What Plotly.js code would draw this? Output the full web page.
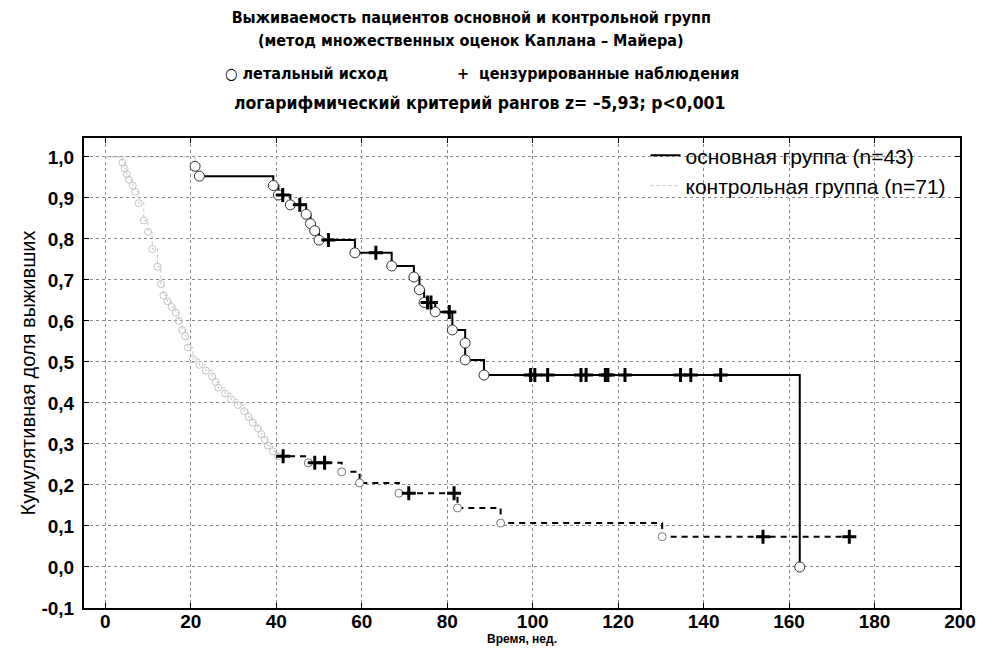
<!DOCTYPE html>
<html>
<head>
<meta charset="utf-8">
<script src="https://cdn.plot.ly/plotly-3.0.1.min.js"></script>
<style>html,body{margin:0;padding:0;background:#fff;}#chart{width:986px;height:671px;}</style>
</head>
<body>
<div id="chart"></div>
<script>
// ---- data ----
const mainTime = [0, 21, 22, 39.3, 40.5, 43.3, 47, 48, 49, 50, 58.4, 67, 72.2, 73.5, 74.6, 77.2, 81.2, 84.2, 84.2, 88.6, 162.5];
const mainSurv = [1, 0.977, 0.953, 0.93, 0.907, 0.883, 0.86, 0.837, 0.82, 0.797, 0.766, 0.734, 0.707, 0.676, 0.645, 0.622, 0.578, 0.546, 0.505, 0.468, 0];
const mainCensTime = [41.5, 45.5, 52.2, 63.3, 75.4, 76.2, 80.5, 99.5, 100.5, 103.5, 111.3, 112.5, 117, 117.6, 121.6, 134.6, 137, 144];
const mainCensSurv = [0.907, 0.883, 0.797, 0.766, 0.645, 0.645, 0.622, 0.468, 0.468, 0.468, 0.468, 0.468, 0.468, 0.468, 0.468, 0.468, 0.468, 0.468];

const ctrlTime = [0, 4, 4.5, 5, 5.5, 6.4, 7, 7.8, 9, 10, 11, 12.2, 13, 13.6, 14.5, 15.5, 16.5, 17.2, 18, 18.7, 19.3, 20.5, 22, 23.5, 25, 25.8, 26.4, 28, 29.4, 31, 32.5, 33.5, 34.5, 35.7, 36.5, 37.3, 38, 39.2, 40.4, 47.5, 55.3, 59.5, 68.7, 82.4, 92.5, 130.3, 174.1];
const ctrlSurv = [1, 0.986, 0.972, 0.958, 0.944, 0.93, 0.915, 0.887, 0.845, 0.817, 0.775, 0.732, 0.69, 0.662, 0.648, 0.634, 0.62, 0.6, 0.578, 0.563, 0.535, 0.507, 0.493, 0.479, 0.465, 0.451, 0.437, 0.423, 0.409, 0.395, 0.38, 0.366, 0.352, 0.338, 0.324, 0.31, 0.296, 0.282, 0.27, 0.254, 0.232, 0.205, 0.18, 0.144, 0.107, 0.074, 0.074];
const ctrlCensTime = [41.6, 49, 51.3, 71, 81.6, 153.9, 174.1];
const ctrlCensSurv = [0.27, 0.254, 0.254, 0.18, 0.18, 0.074, 0.074];

const seriesNames = ['основная группа (n=43)', 'контрольная группа (n=71)'];
const xTickVals = [0, 20, 40, 60, 80, 100, 120, 140, 160, 180, 200];
const xTickText = ['0', '20', '40', '60', '80', '100', '120', '140', '160', '180', '200'];
const yTickVals = [-0.1, 0, 0.1, 0.2, 0.3, 0.4, 0.5, 0.6, 0.7, 0.8, 0.9, 1.0];
const yTickText = ['-0,1', '0,0', '0,1', '0,2', '0,3', '0,4', '0,5', '0,6', '0,7', '0,8', '0,9', '1,0'];

const mainFaintUntil = 22;   // early part appears faint in the print
const ctrlFaintUntil = 40.4;

// ---- helpers ----
function splitAt(t, s, cut) {
  const a = {x: [], y: []}, b = {x: [], y: []};
  for (let i = 0; i < t.length; i++) {
    if (t[i] <= cut) { a.x.push(t[i]); a.y.push(s[i]); }
    if (t[i] >= cut) { b.x.push(t[i]); b.y.push(s[i]); }
  }
  return [a, b];
}
function deaths(t, s, censoredEnd) {
  const x = [], y = [];
  const end = censoredEnd ? t.length - 1 : t.length;
  for (let i = 1; i < end; i++) { x.push(t[i]); y.push(s[i]); }
  return {x, y};
}
function pick(d, test) {
  const x = [], y = [];
  d.x.forEach((v, i) => { if (test(v)) { x.push(v); y.push(d.y[i]); } });
  return {x, y};
}

const [mainA, mainB] = splitAt(mainTime, mainSurv, mainFaintUntil);
const [ctrlA, ctrlB] = splitAt(ctrlTime, ctrlSurv, ctrlFaintUntil);
const mainD = deaths(mainTime, mainSurv, false);
const ctrlD = deaths(ctrlTime, ctrlSurv, true);
const ctrlDEarly = pick(ctrlD, v => v <= ctrlFaintUntil);
const ctrlDLate = pick(ctrlD, v => v > ctrlFaintUntil);

const faint = '#c4c4c4';
const traces = [
  {x: mainA.x, y: mainA.y, mode: 'lines', line: {shape: 'hv', color: faint, width: 1, dash: 'dot'}, showlegend: false},
  {x: mainB.x, y: mainB.y, mode: 'lines', name: seriesNames[0], legendgroup: 'a', line: {shape: 'hv', color: '#000', width: 2}},
  {x: ctrlA.x, y: ctrlA.y, mode: 'lines', name: seriesNames[1], legendgroup: 'b', line: {shape: 'hv', color: faint, width: 1, dash: 'dot'}},
  {x: ctrlB.x, y: ctrlB.y, mode: 'lines', line: {shape: 'hv', color: '#000', width: 2, dash: '6px,5px'}, showlegend: false},
  {x: ctrlDEarly.x, y: ctrlDEarly.y, mode: 'markers', showlegend: false,
   marker: {symbol: 'circle-open', size: 7, color: faint, line: {width: 1, color: faint}}},
  {x: ctrlDLate.x, y: ctrlDLate.y, mode: 'markers', showlegend: false,
   marker: {symbol: 'circle', size: 8, color: '#fff', line: {width: 1, color: '#777'}}},
  {x: mainD.x, y: mainD.y, mode: 'markers', showlegend: false,
   marker: {symbol: 'circle', size: 10, color: '#fff', line: {width: 1, color: '#333'}}},
  {x: mainCensTime, y: mainCensSurv, mode: 'markers', showlegend: false,
   marker: {symbol: 'cross-thin-open', size: 10, color: '#000', line: {width: 3, color: '#000'}}},
  {x: ctrlCensTime, y: ctrlCensSurv, mode: 'markers', showlegend: false,
   marker: {symbol: 'cross-thin-open', size: 10, color: '#000', line: {width: 3, color: '#000'}}}
];

const titleFamily = 'Liberation Sans Narrow, DejaVu Sans Condensed, Arial Narrow, sans-serif';
const titleFont = {family: titleFamily, size: 16, color: '#000', weight: 'bold'};
const axisFont = {family: 'Liberation Sans, Arial, sans-serif', size: 19, color: '#000', weight: 'bold'};

const layout = {
  width: 986, height: 671,
  paper_bgcolor: '#fff', plot_bgcolor: '#fff',
  margin: {l: 84, r: 26, t: 138, b: 63},
  title: {
    text: 'Выживаемость пациентов основной и контрольной групп',
    font: titleFont, x: 0.478, xanchor: 'center', xref: 'container', y: 0.9747, yanchor: 'middle', yref: 'container'
  },
  xaxis: {
    range: [-5, 200], tickvals: xTickVals, ticktext: xTickText, tickfont: axisFont, automargin: false,
    ticklabelstandoff: -5,
    showgrid: true, gridcolor: '#8a8a8a', griddash: 'dot', gridwidth: 1, zeroline: false,
    showline: true, linecolor: '#000', linewidth: 2, mirror: 'ticks', ticks: 'inside', ticklen: 5, tickcolor: '#000',
    title: {text: 'Время, нед.', font: {family: 'Liberation Sans, Arial, sans-serif', size: 12, color: '#000', weight: 'bold'}, standoff: 3}
  },
  yaxis: {
    range: [-0.1, 1.046], tickvals: yTickVals, ticktext: yTickText, tickfont: axisFont, automargin: false,
    ticklabelstandoff: 4,
    showgrid: true, gridcolor: '#8a8a8a', griddash: 'dot', gridwidth: 1, zeroline: false,
    showline: true, linecolor: '#000', linewidth: 2, mirror: 'ticks', ticks: 'inside', ticklen: 5, tickcolor: '#000',
    title: {text: 'Кумулятивная доля выживших', font: {family: 'Liberation Sans, Arial, sans-serif', size: 20, color: '#000'}, standoff: 0}
  },
  legend: {
    x: 0.641, y: 1.006, xanchor: 'left', yanchor: 'top', bgcolor: 'rgba(0,0,0,0)', borderwidth: 0,
    font: {family: 'Liberation Sans, Arial, sans-serif', size: 21, color: '#000'},
    traceorder: 'grouped', tracegroupgap: 0
  },
  annotations: [
    {text: '(метод множественных оценок Каплана – Майера)', xref: 'paper', yref: 'paper', x: 0.442, y: 1.2085, xanchor: 'center', yanchor: 'middle', showarrow: false, font: titleFont},
    {text: '○ летальный исход', xref: 'paper', yref: 'paper', x: 0.1587, y: 1.138, xanchor: 'left', yanchor: 'middle', showarrow: false, font: titleFont},
    {text: '+  цензурированные наблюдения', xref: 'paper', yref: 'paper', x: 0.4235, y: 1.138, xanchor: 'left', yanchor: 'middle', showarrow: false, font: titleFont},
    {text: 'логарифмический критерий рангов z= –5,93; p&lt;0,001', xref: 'paper', yref: 'paper', x: 0.452, y: 1.0745, xanchor: 'center', yanchor: 'middle', showarrow: false, font: {family: titleFamily, size: 17.5, color: '#000', weight: 'bold'}}
  ]
};

Plotly.newPlot('chart', traces, layout, {displayModeBar: false, staticPlot: true});
</script>
</body>
</html>
